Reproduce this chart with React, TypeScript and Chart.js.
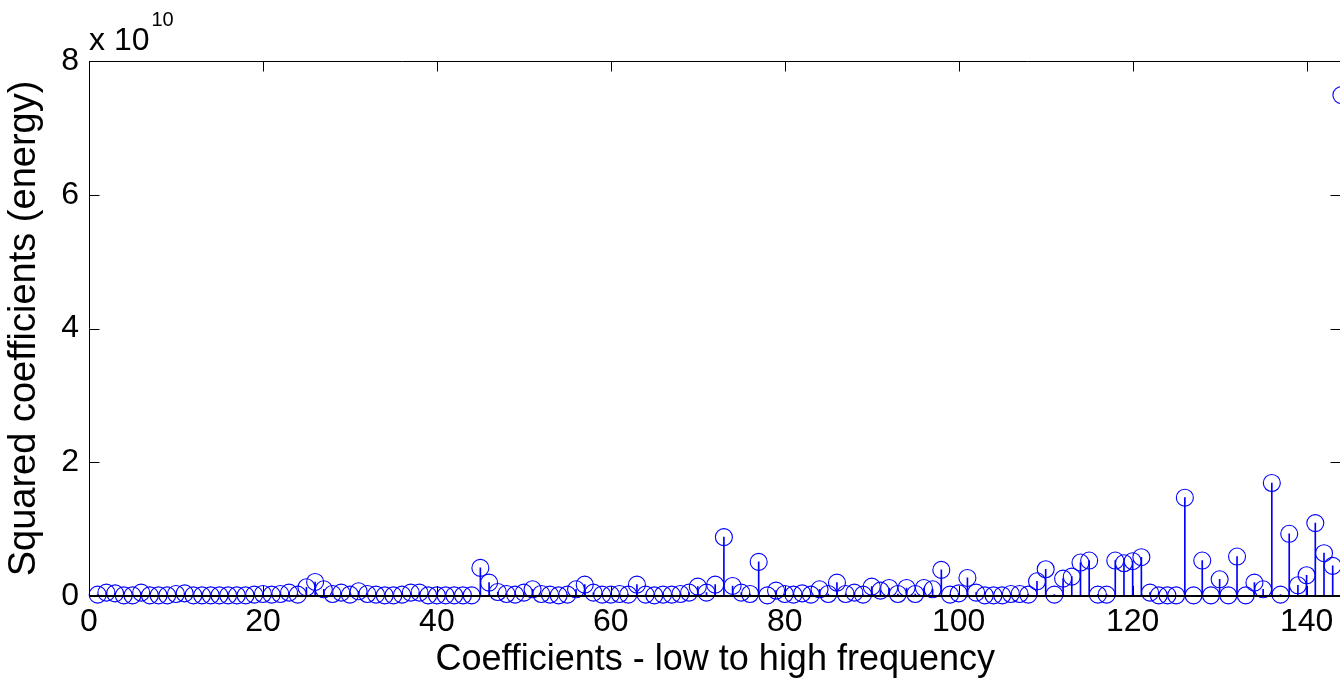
import React, { useEffect, useRef } from 'react';
import { Chart, registerables } from 'chart.js';

Chart.register(...registerables);

// Squared coefficients, in units of 1e10, for coefficients 1..144
const energy: number[] = [
  0.02, 0.05, 0.04, 0.01, 0.01, 0.05, 0.01, 0.01, 0.01, 0.03,
  0.04, 0.01, 0.01, 0.01, 0.01, 0.01, 0.01, 0.01, 0.02, 0.03,
  0.02, 0.03, 0.05, 0.02, 0.13, 0.21, 0.10, 0.03, 0.05, 0.02,
  0.07, 0.03, 0.02, 0.01, 0.01, 0.02, 0.05, 0.05, 0.01, 0.01,
  0.01, 0.01, 0.01, 0.01, 0.42, 0.20, 0.06, 0.03, 0.02, 0.05,
  0.10, 0.03, 0.02, 0.01, 0.02, 0.10, 0.17, 0.05, 0.02, 0.02,
  0.03, 0.02, 0.17, 0.02, 0.01, 0.02, 0.02, 0.03, 0.05, 0.14,
  0.05, 0.17, 0.88, 0.15, 0.05, 0.03, 0.51, 0.01, 0.08, 0.03,
  0.02, 0.04, 0.02, 0.10, 0.03, 0.20, 0.03, 0.05, 0.02, 0.14,
  0.08, 0.12, 0.03, 0.12, 0.03, 0.12, 0.10, 0.39, 0.02, 0.04,
  0.27, 0.05, 0.01, 0.01, 0.01, 0.03, 0.03, 0.02, 0.22, 0.40,
  0.02, 0.26, 0.29, 0.50, 0.53, 0.02, 0.02, 0.53, 0.49, 0.52,
  0.58, 0.05, 0.01, 0.01, 0.01, 1.47, 0.01, 0.53, 0.01, 0.25,
  0.01, 0.59, 0.01, 0.20, 0.10, 1.69, 0.02, 0.93, 0.16, 0.31,
  1.09, 0.64, 0.45, 7.49,
];

const xTickValues = [0, 20, 40, 60, 80, 100, 120, 140];
const yTickValues = [0, 2, 4, 6, 8];
const xAxisTitle = 'Coefficients - low to high frequency';
const yAxisTitle = 'Squared coefficients (energy)';
const exponentBase = 'x 10';
const exponentPower = '10';

const FONT = '"Liberation Sans", Arial, sans-serif';
const BLUE = '#0000ff';

const framePlugin = {
  id: 'matlabFrame',
  afterDatasetsDraw(chart: any) {
    const { ctx, chartArea: a, scales } = chart;
    const x = scales.x;
    const y = scales.y;
    const L = Math.round(a.left) + 0.5;
    const T = Math.round(a.top) + 0.5;
    const R = Math.round(a.right) - 0.5;
    const B = Math.round(a.bottom);
    const tl = 10;
    ctx.save();
    ctx.strokeStyle = '#000';
    ctx.lineWidth = 1;
    ctx.beginPath();
    ctx.moveTo(L, B);
    ctx.lineTo(L, T);
    ctx.lineTo(R, T);
    ctx.lineTo(R, B);
    for (const v of xTickValues) {
      const px = Math.round(x.getPixelForValue(v)) + 0.5;
      ctx.moveTo(px, B);
      ctx.lineTo(px, B - tl);
      ctx.moveTo(px, T);
      ctx.lineTo(px, T + tl);
    }
    for (const v of yTickValues) {
      const py = Math.round(y.getPixelForValue(v)) + 0.5;
      ctx.moveTo(L, py);
      ctx.lineTo(L + tl, py);
      ctx.moveTo(R, py);
      ctx.lineTo(R - tl, py);
    }
    ctx.stroke();
    // baseline / bottom axis
    ctx.lineWidth = 2;
    ctx.beginPath();
    ctx.moveTo(a.left, B);
    ctx.lineTo(a.right, B);
    ctx.stroke();
    // exponent label
    ctx.fillStyle = '#000';
    ctx.textBaseline = 'alphabetic';
    ctx.textAlign = 'left';
    ctx.font = `32px ${FONT}`;
    ctx.fillText(exponentBase, a.left, 50);
    const w = ctx.measureText(exponentBase).width;
    ctx.font = `20px ${FONT}`;
    ctx.fillText(exponentPower, a.left + w + 2, 26);
    ctx.restore();
  },
};

export default function App() {
  const ref = useRef<HTMLCanvasElement | null>(null);
  useEffect(() => {
    if (!ref.current) return;
    const pts = energy.map((v, i) => ({ x: i + 1, y: v }));
    const chart = new Chart(ref.current, {
      type: 'bar',
      data: {
        datasets: [
          { type: 'bar', data: pts, backgroundColor: BLUE, borderWidth: 0, barThickness: 1, grouped: false, order: 2 } as any,
          { type: 'scatter', data: pts, showLine: false, pointStyle: 'circle', pointRadius: 8.5, pointBorderWidth: 1.1, pointBorderColor: BLUE, pointBackgroundColor: 'rgba(0,0,0,0)', clip: false, order: 1 } as any,
        ],
      },
      options: {
        responsive: false,
        animation: false,
        events: [],
        layout: { padding: { left: 0, right: 0, top: 61, bottom: 0 } },
        plugins: { legend: { display: false }, tooltip: { enabled: false } },
        scales: {
          x: {
            type: 'linear', min: 0, max: 144, offset: false,
            grid: { display: false, drawTicks: false }, border: { display: false },
            afterBuildTicks: (s: any) => { s.ticks = xTickValues.map((v) => ({ value: v })); },
            afterFit: (s: any) => { s.height = 84; },
            ticks: { color: '#000', font: { family: FONT, size: 32 }, padding: 7, maxRotation: 0, autoSkip: false },
            title: { display: true, text: xAxisTitle, color: '#000', font: { family: FONT, size: 36, lineHeight: 1.1 }, padding: { top: 0, bottom: 0 } },
          },
          y: {
            type: 'linear', min: 0, max: 8,
            grid: { display: false, drawTicks: false }, border: { display: false },
            afterBuildTicks: (s: any) => { s.ticks = yTickValues.map((v) => ({ value: v })); },
            afterFit: (s: any) => { s.width = 89; },
            ticks: { color: '#000', font: { family: FONT, size: 32 }, padding: 10 },
            title: { display: true, text: yAxisTitle, color: '#000', font: { family: FONT, size: 38, lineHeight: 1.1 }, padding: { top: 4, bottom: 0 } },
          },
        },
      },
      plugins: [framePlugin],
    } as any);
    return () => chart.destroy();
  }, []);
  return (
    <div style={{ position: 'absolute', left: 0, top: 0, width: 1340, height: 680, overflow: 'hidden', background: '#fff' }}>
      <canvas ref={ref} width={1351} height={680} style={{ width: 1351, height: 680, display: 'block' }} />
    </div>
  );
}
